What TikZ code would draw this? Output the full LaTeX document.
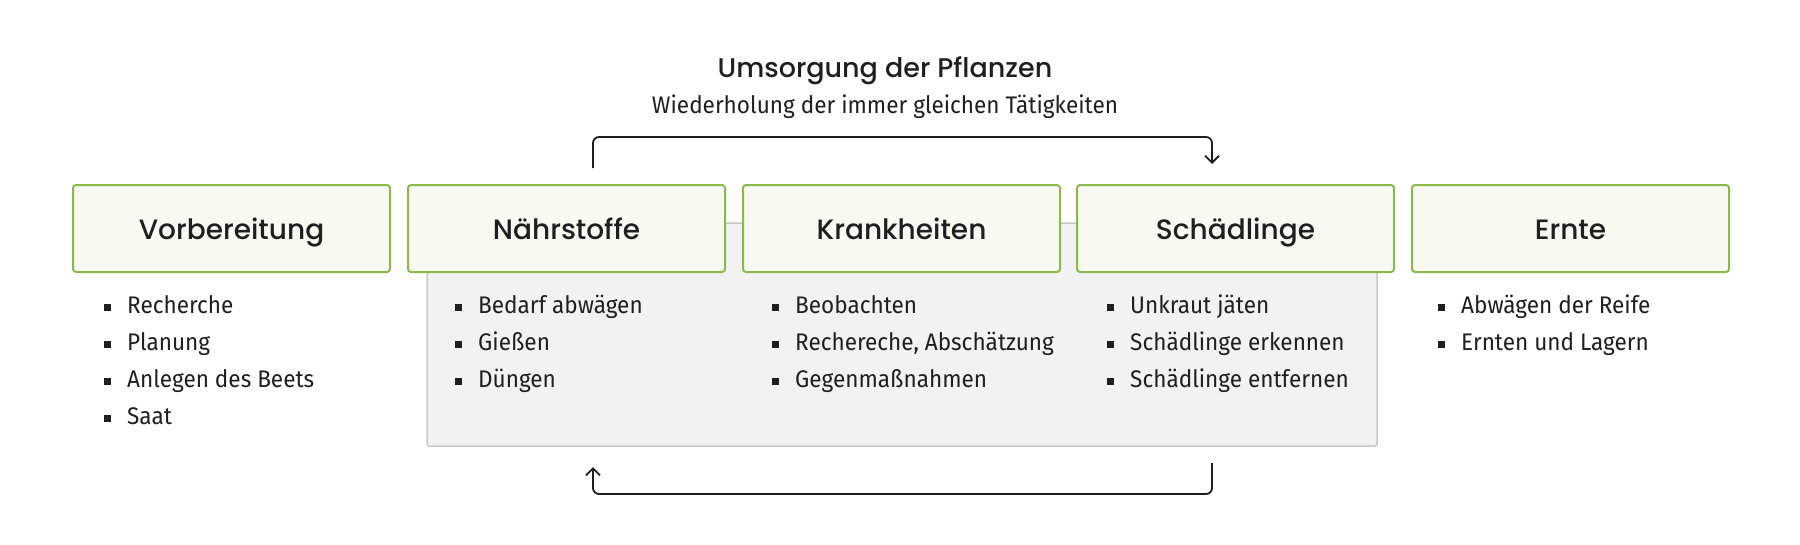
\documentclass[tikz,border=0pt]{standalone}
\usepackage{fontspec}
\setmainfont{Fira Sans}[FakeStretch=0.94]
\newfontfamily\headfont{Poppins}[UprightFont={Poppins Medium}]
\usetikzlibrary{arrows.meta}
\definecolor{boxgreen}{HTML}{8CB84C}
\definecolor{boxfill}{HTML}{F8F9F0}
\definecolor{panelfill}{HTML}{F2F2F2}
\definecolor{panelline}{HTML}{C8C8C8}
\definecolor{ink}{HTML}{1F1F1F}
\newcommand{\bul}{\rule[3pt]{6.5pt}{6.5pt}\hspace{16.5pt}}
\tikzset{
  stagebox/.style={draw=boxgreen, line width=2pt, fill=boxfill, rounded corners=3pt,
    minimum width=317pt, minimum height=87pt, inner sep=0pt,
    text height=21pt, text depth=0pt, text=ink,
    font=\headfont\fontsize{28}{32}\selectfont},
  panel/.style={draw=panelline, line width=1.5pt, fill=panelfill, rounded corners=2pt},
  item/.style={anchor=base west, inner sep=0pt, text=ink, font=\fontsize{24}{28}\selectfont},
  title/.style={anchor=base, inner sep=0pt, text=ink, font=\headfont\fontsize{27}{30}\selectfont},
  subtitle/.style={anchor=base, inner sep=0pt, text=ink, font=\fontsize{24}{28}\selectfont},
  loop/.style={draw=ink, line width=1.8pt, rounded corners=6pt,
    -{Straight Barb[length=7pt,width=14pt]}}
}
\begin{document}
\begin{tikzpicture}[x=1pt,y=-1pt]
\useasboundingbox (0,0) rectangle (1800,544);
\fill[white] (0,0) rectangle (1800,544);
% panel
\draw[panel] (427,223) rectangle (1377,446);
% boxes
\node[stagebox] (b1) at (231.5,228.5) {Vorbereitung};
\node[stagebox] (b2) at (566.5,228.5) {Nährstoffe};
\node[stagebox] (b3) at (901.5,228.5) {Krankheiten};
\node[stagebox] (b4) at (1235.5,228.5) {Schädlinge};
\node[stagebox] (b5) at (1570.5,228.5) {Ernte};
% title
\node[title] (title) at (885,77) {Umsorgung der Pflanzen};
\node[subtitle] (sub) at (885,113) {Wiederholung der immer gleichen Tätigkeiten};
% lists
\foreach \t [count=\i] in {Recherche,Planung,Anlegen des Beets,Saat}
  \node[item] (a\i) at (104,{313.5+37*(\i-1)}) {\bul\t};
\foreach \t [count=\i] in {Bedarf abwägen,Gießen,Düngen}
  \node[item] (n\i) at (455,{313.5+37*(\i-1)}) {\bul\t};
\foreach \t [count=\i] in {Beobachten,{Rechereche, Abschätzung},Gegenmaßnahmen}
  \node[item] (k\i) at (772,{313.5+37*(\i-1)}) {\bul\t};
\foreach \t [count=\i] in {Unkraut jäten,Schädlinge erkennen,Schädlinge entfernen}
  \node[item] (s\i) at (1107,{313.5+37*(\i-1)}) {\bul\t};
\foreach \t [count=\i] in {Abwägen der Reife,Ernten und Lagern}
  \node[item] (e\i) at (1438,{313.5+37*(\i-1)}) {\bul\t};
% loop arrows
\coordinate (ts) at (593,168);
\coordinate (te) at (1212,164);
\coordinate (bs) at (1212,463);
\coordinate (be) at (593,467);
\draw[loop] (ts) -- (593,137) -- (1212,137) -- (te);
\draw[loop] (bs) -- (1212,494) -- (593,494) -- (be);
\end{tikzpicture}
\end{document}
